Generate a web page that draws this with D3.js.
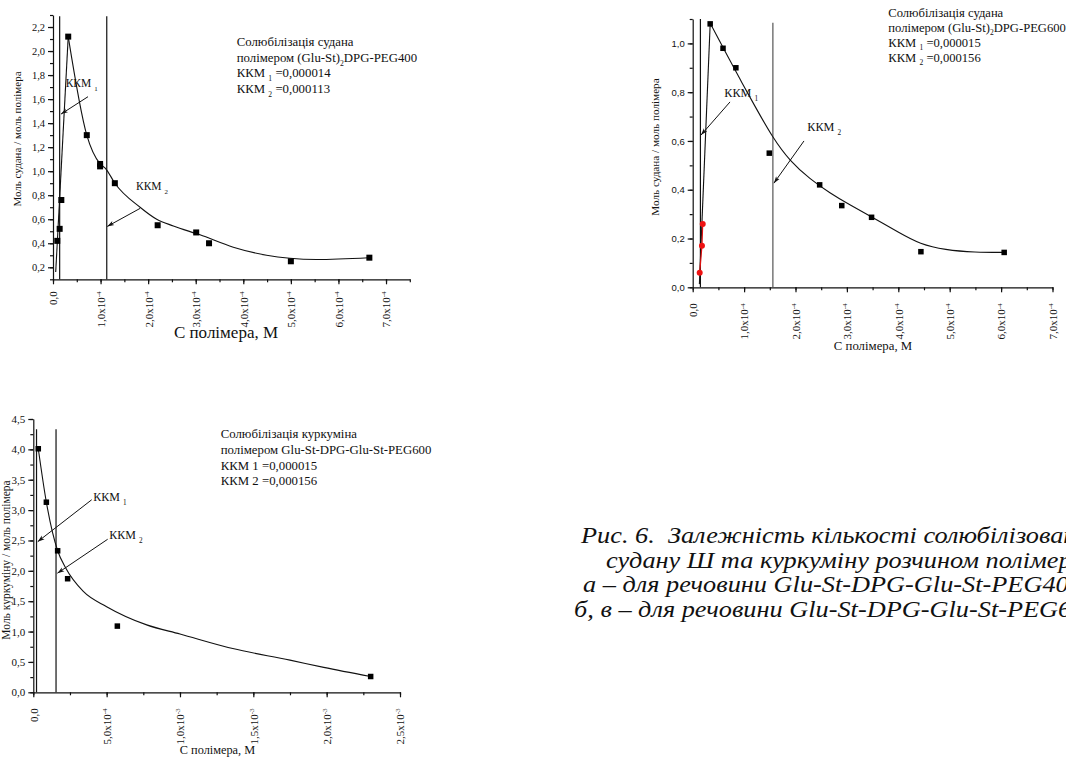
<!DOCTYPE html>
<html>
<head>
<meta charset="utf-8">
<script src="https://cdn.jsdelivr.net/npm/d3@7"></script>
<style>
  body { margin: 0; background: #fff; }
  svg { display: block; }
  svg text { font-family: "Liberation Serif", "Times New Roman", "DejaVu Serif", serif; fill: #111; }
  svg text.sans { font-family: "Liberation Sans", Arial, sans-serif; }
  .axis path, .axis line { stroke: #111; stroke-width: 1.2; }
  .caption { font-style: italic; font-size: 23.5px; white-space: pre; }
</style>
</head>
<body>
<svg id="chart" width="1066" height="758"></svg>
<script>
// ---- panel a: судан, (Glu-St)2DPG-PEG400
const aX = [0.9e-5, 1.4e-5, 1.75e-5, 3.2e-5, 7.1e-5, 9.9e-5, 9.9e-5, 1.3e-4, 2.2e-4, 3.01e-4, 3.28e-4, 5.0e-4, 6.65e-4];
const aY = [0.42, 0.52, 0.76, 2.12, 1.30, 1.06, 1.04, 0.90, 0.55, 0.49, 0.40, 0.25, 0.28];
const aRiseX = [0.57e-5, 3.2e-5];
const aRiseY = [0.16, 2.12];
const aFitX = [3.2e-5, 7.1e-5, 9.9e-5, 1.11e-4, 1.3e-4, 1.83e-4, 2.18e-4, 2.53e-4, 3.09e-4, 3.79e-4, 4.49e-4, 4.98e-4, 5.54e-4, 6.64e-4];
const aFitY = [2.12, 1.30, 1.06, 1.02, 0.90, 0.70, 0.60, 0.544, 0.47, 0.367, 0.30, 0.275, 0.265, 0.28];
const aKkm = [1.4e-5, 1.13e-4];
const aYTicks = [0.2, 0.4, 0.6, 0.8, 1.0, 1.2, 1.4, 1.6, 1.8, 2.0, 2.2];
const aXTicks = [0, 1e-4, 2e-4, 3e-4, 4e-4, 5e-4, 6e-4, 7e-4];
const aNote = ["Солюбілізація судана", "полімером (Glu-St)|2|DPG-PEG400", "ККМ |1| =0,000014", "ККМ |2| =0,000113"];

// ---- panel b: судан, (Glu-St)2DPG-PEG600
const bX = [3.4e-5, 5.9e-5, 8.4e-5, 1.49e-4, 2.47e-4, 2.9e-4, 3.48e-4, 4.44e-4, 6.06e-4];
const bY = [1.08, 0.98, 0.90, 0.55, 0.42, 0.335, 0.287, 0.146, 0.143];
const bRedX = [1.36e-5, 1.8e-5, 1.95e-5];
const bRedY = [0.06, 0.17, 0.26];
const bRiseX = [1.3e-5, 3.4e-5];
const bRiseY = [0.013, 1.08];
const bFitX = [3.42e-5, 6.28e-5, 9.2e-5, 1.212e-4, 1.562e-4, 1.893e-4, 2.28e-4, 2.67e-4, 3.06e-4, 3.49e-4, 4.03e-4, 4.42e-4, 4.91e-4, 5.49e-4, 6.06e-4];
const bFitY = [1.082, 0.968, 0.853, 0.742, 0.611, 0.517, 0.444, 0.386, 0.337, 0.288, 0.222, 0.177, 0.153, 0.143, 0.143];
const bKkm = [1.5e-5, 1.56e-4];
const bYTicks = [0, 0.2, 0.4, 0.6, 0.8, 1.0];
const bXTicks = [0, 1e-4, 2e-4, 3e-4, 4e-4, 5e-4, 6e-4, 7e-4];
const bNote = ["Солюбілізація судана", "полімером (Glu-St)|2|DPG-PEG600", "ККМ |1| =0,000015", "ККМ |2| =0,000156"];

// ---- panel c: куркумін, Glu-St-DPG-Glu-St-PEG600
const cX = [3.4e-5, 8.9e-5, 1.66e-4, 2.34e-4, 5.73e-4, 2.3e-3];
const cY = [4.01, 3.13, 2.33, 1.87, 1.09, 0.26];
const cFitX = [3.4e-5, 8.9e-5, 1.66e-4, 2.2e-4, 3.41e-4, 5.0e-4, 7.73e-4, 1.0e-3, 1.36e-3, 1.75e-3, 1.98e-3, 2.3e-3];
const cFitY = [4.01, 3.13, 2.33, 2.05, 1.66, 1.41, 1.11, 0.96, 0.72, 0.53, 0.41, 0.26];
const cKkm = [2.2e-5, 1.55e-4];
const cYTicks = [0, 0.5, 1.0, 1.5, 2.0, 2.5, 3.0, 3.5, 4.0, 4.5];
const cXTicks = [0, 5e-4, 1e-3, 1.5e-3, 2e-3, 2.5e-3];
const cNote = ["Солюбілізація куркуміна", "полімером Glu-St-DPG-Glu-St-PEG600", "ККМ 1 =0,000015", "ККМ 2 =0,000156"];

const caption = [
  "Рис. 6.  Залежність кількості солюбілізованого",
  "судану Ш та куркуміну розчином полімерів:",
  "а – для речовини Glu-St-DPG-Glu-St-PEG400;",
  "б, в – для речовини Glu-St-DPG-Glu-St-PEG600"
];

const svg = d3.select("#chart");

svg.append("defs").append("marker")
    .attr("id", "arrow")
    .attr("viewBox", "0 -3 8 6")
    .attr("refX", 8).attr("refY", 0)
    .attr("markerWidth", 7).attr("markerHeight", 6)
    .attr("markerUnits", "userSpaceOnUse")
    .attr("orient", "auto")
  .append("path")
    .attr("d", "M0,-2.6L8,0L0,2.6L2,0Z")
    .attr("fill", "#111");

const comma = d => d3.format(".1f")(d).replace(".", ",");

// writes "1,0x10" with a raised exponent into a tick label
function sciLabel(text) {
  text.each(function(d) {
    const t = d3.select(this).text(null);
    if (d === 0) { t.text("0,0"); return; }
    const e = Math.floor(Math.log10(d) + 1e-9);
    t.append("tspan").text(comma(d / Math.pow(10, e)) + "x10");
    t.append("tspan").attr("dy", "-0.55em").attr("font-size", "0.65em").text(String(e));
  });
}

// text with |sub| parts lowered (shift in px so the baseline comes back)
function richText(sel, str, size) {
  const sh = size * 0.3;
  str.split("|").forEach((part, i) => {
    if (i % 2 === 1) {
      sel.append("tspan").attr("dy", sh).attr("font-size", size * 0.6).text(part);
    } else {
      sel.append("tspan").attr("dy", i === 0 ? 0 : -sh).text(part);
    }
  });
}

class Panel {
  constructor(_config) {
    this.config = _config;
    this.initVis();
  }

  initVis() {
    let vis = this;
    const c = vis.config;
    vis.x = d3.scaleLinear().domain(c.xDomain).range(c.xRange);
    vis.y = d3.scaleLinear().domain(c.yDomain).range(c.yRange);
    vis.g = svg.append("g");

    // minor ticks first, major axis on top
    vis.g.append("g").attr("class", "axis")
        .attr("transform", `translate(0,${c.yRange[0]})`)
        .call(d3.axisBottom(vis.x).tickValues(c.xMinor).tickSize(3).tickFormat(""))
        .call(g => g.select(".domain").remove());
    vis.g.append("g").attr("class", "axis")
        .attr("transform", `translate(${c.xRange[0]},0)`)
        .call(d3.axisLeft(vis.y).tickValues(c.yMinor).tickSize(3).tickFormat(""))
        .call(g => g.select(".domain").remove());

    vis.xAxisG = vis.g.append("g").attr("class", "axis")
        .attr("transform", `translate(0,${c.yRange[0]})`)
        .call(d3.axisBottom(vis.x).tickValues(c.xTicks).tickSize(5).tickSizeOuter(0))
        .attr("font-family", null);
    vis.xAxisG.selectAll(".tick text")
        .attr("transform", "rotate(-90)")
        .attr("x", -c.xTickGap).attr("y", 0).attr("dy", "0.35em")
        .style("text-anchor", "end")
        .attr("font-size", c.xTickSize)
        .call(sciLabel);

    vis.yAxisG = vis.g.append("g").attr("class", "axis")
        .attr("transform", `translate(${c.xRange[0]},0)`)
        .call(d3.axisLeft(vis.y).tickValues(c.yTicks).tickSize(5).tickSizeOuter(0).tickPadding(3).tickFormat(comma))
        .attr("font-family", null);
    vis.yAxisG.selectAll(".tick text")
        .classed("sans", c.yTickSans)
        .attr("font-size", c.yTickSize);

    // axis titles
    vis.g.append("text")
        .attr("x", c.xTitle[0]).attr("y", c.xTitle[1])
        .attr("text-anchor", "middle").attr("font-size", c.xTitle[2])
        .text("С полімера, М");
    vis.g.append("text")
        .attr("transform", `translate(${c.yTitle[0]},${c.yTitle[1]}) rotate(-90)`)
        .attr("text-anchor", "middle").attr("dy", "0.35em").attr("font-size", c.yTitle[2])
        .text(c.yTitle[3]);
  }

  renderVis() {
    let vis = this;
    const c = vis.config;
    const line = d3.line().x(d => vis.x(d[0])).y(d => vis.y(d[1]));

    // ККМ vertical lines
    vis.g.selectAll(".kkm").data(c.kkm).join("line")
        .attr("class", "kkm")
        .attr("x1", d => vis.x(d)).attr("x2", d => vis.x(d))
        .attr("y1", (d, i) => vis.y(c.kkmTop[i])).attr("y2", vis.y(c.yDomain[0]))
        .attr("stroke", (d, i) => c.kkmColor[i]).attr("stroke-width", 1.2);

    if (c.rise) {
      vis.g.append("path")
          .attr("d", line(d3.zip(c.rise[0], c.rise[1])))
          .attr("fill", "none").attr("stroke", "#111").attr("stroke-width", 1.1);
    }
    vis.g.append("path")
        .attr("d", d3.line().x(d => vis.x(d[0])).y(d => vis.y(d[1])).curve(c.curve)(d3.zip(c.fit[0], c.fit[1])))
        .attr("fill", "none").attr("stroke", "#111").attr("stroke-width", 1.1);

    if (c.red) {
      vis.g.append("path")
          .attr("d", line(d3.zip(c.red[0], c.red[1])))
          .attr("fill", "none").attr("stroke", "#e01010").attr("stroke-width", 1.2);
      vis.g.selectAll(".red").data(d3.zip(c.red[0], c.red[1])).join("circle")
          .attr("class", "red")
          .attr("cx", d => vis.x(d[0])).attr("cy", d => vis.y(d[1]))
          .attr("r", 3).attr("fill", "#ee1111");
    }

    const s = c.markSize;
    vis.g.selectAll(".pt").data(d3.zip(c.pts[0], c.pts[1])).join("rect")
        .attr("class", "pt")
        .attr("x", d => vis.x(d[0]) - s / 2).attr("y", d => vis.y(d[1]) - s / 2)
        .attr("width", s).attr("height", s).attr("fill", "#000");

    // ККМ labels with arrows
    c.labels.forEach((l, i) => {
      const t = vis.g.append("text")
          .attr("x", vis.x(l.at[0])).attr("y", vis.y(l.at[1]))
          .attr("font-size", c.labelSize);
      richText(t, "ККМ |" + (i + 1) + "|", c.labelSize);
      vis.g.append("line")
          .attr("x1", vis.x(l.from[0])).attr("y1", vis.y(l.from[1]))
          .attr("x2", vis.x(l.to[0])).attr("y2", vis.y(l.to[1]))
          .attr("stroke", "#111").attr("stroke-width", 1)
          .attr("marker-end", "url(#arrow)");
    });

    // note block
    c.note.forEach((str, i) => {
      const t = vis.g.append("text")
          .attr("x", c.notePos[0]).attr("y", c.notePos[1] + i * c.notePos[2])
          .attr("font-size", c.noteSize);
      richText(t, str, c.noteSize);
    });
  }
}

const range = (a, b, s) => d3.range(Math.round((b - a) / s) + 1).map(i => +(a + i * s).toPrecision(6));

const pa = new Panel({
  xDomain: [0, 7.5e-4], xRange: [53, 409.8],
  yDomain: [0.1, 2.3], yRange: [279.3, 15],
  xTicks: aXTicks, xMinor: range(0, 7.5e-4, 0.5e-4),
  yTicks: aYTicks, yMinor: range(0.1, 2.3, 0.1),
  xTickSize: 11, xTickGap: 12, yTickSize: 10.5, yTickSans: false,
  xTitle: [226, 338, 17], yTitle: [17, 139, 11, "Моль судана / моль полімера"],
  kkm: aKkm, kkmTop: [2.29, 2.29], kkmColor: ["#111", "#111"],
  rise: [aRiseX, aRiseY], fit: [aFitX, aFitY], curve: d3.curveMonotoneX, pts: [aX, aY], markSize: 6,
  labels: [
    { at: [2.67e-5, 1.70], from: [7.36e-5, 1.62], to: [1.68e-5, 1.475] },
    { at: [1.745e-4, 0.84], from: [1.83e-4, 0.69], to: [1.14e-4, 0.54] }
  ],
  labelSize: 11.5,
  note: aNote, notePos: [236.7, 46, 15.7], noteSize: 12.8
});
pa.renderVis();

const pb = new Panel({
  xDomain: [0, 7e-4], xRange: [692.7, 1052.5],
  yDomain: [0, 1.1], yRange: [287.3, 19],
  xTicks: bXTicks, xMinor: range(0, 7e-4, 0.5e-4),
  yTicks: bYTicks, yMinor: range(0, 1.1, 0.1),
  xTickSize: 11, xTickGap: 16, yTickSize: 9.5, yTickSans: true,
  xTitle: [873, 350, 12.8], yTitle: [655, 147, 11.2, "Моль судана / моль полімера"],
  kkm: bKkm, kkmTop: [1.1, 1.085], kkmColor: ["#111", "#555"],
  rise: [bRiseX, bRiseY], fit: [bFitX, bFitY], curve: d3.curveBasis, pts: [bX, bY], markSize: 5.5,
  red: [bRedX, bRedY],
  labels: [
    { at: [6.15e-5, 0.78], from: [7.26e-5, 0.76], to: [1.61e-5, 0.624] },
    { at: [2.23e-4, 0.64], from: [2.165e-4, 0.60], to: [1.58e-4, 0.427] }
  ],
  labelSize: 12.2,
  note: bNote, notePos: [888.3, 16.5, 15], noteSize: 12.6
});
pb.renderVis();

const pc = new Panel({
  xDomain: [0, 2.5e-3], xRange: [33.3, 400],
  yDomain: [0, 4.5], yRange: [692.3, 419],
  xTicks: cXTicks, xMinor: range(0, 2.5e-3, 2.5e-4),
  yTicks: cYTicks, yMinor: range(0, 4.5, 0.25),
  xTickSize: 11, xTickGap: 16, yTickSize: 11, yTickSans: false,
  xTitle: [217.5, 754, 12.3], yTitle: [6, 560, 11.5, "Моль куркуміну / моль полімера"],
  kkm: cKkm, kkmTop: [4.33, 4.33], kkmColor: ["#111", "#111"],
  fit: [cFitX, cFitY], curve: d3.curveMonotoneX, pts: [cX, cY], markSize: 5.5,
  labels: [
    { at: [4.09e-4, 3.15], from: [3.98e-4, 3.17], to: [3.0e-5, 2.48] },
    { at: [5.18e-4, 2.52], from: [5.07e-4, 2.52], to: [1.64e-4, 1.96] }
  ],
  labelSize: 12,
  note: cNote, notePos: [220.7, 438.3, 15.6], noteSize: 12.8
});
pc.renderVis();

// figure caption (runs off the right edge as in the source); glyphs are
// stretched a little sideways so the lines stay apart but keep their width
const capX = [581, 606, 583, 574];
svg.append("g").selectAll("text").data(caption).join("text")
    .attr("class", "caption")
    .attr("transform", (d, i) => `translate(${capX[i]},${543 + i * 24.6}) scale(1.12,1)`)
    .text(d => d);
</script>
</body>
</html>
